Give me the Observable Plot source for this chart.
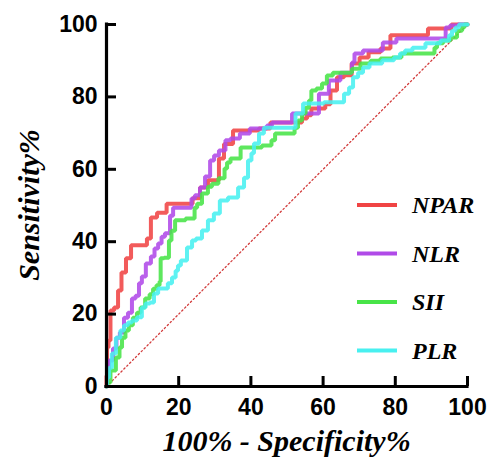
<!DOCTYPE html>
<html>
<head>
<meta charset="utf-8">
<script src="https://cdn.jsdelivr.net/npm/d3@7"></script>
<script src="https://cdn.jsdelivr.net/npm/@observablehq/plot@0.6"></script>
<style>
  html, body { margin: 0; padding: 0; background: #fff; }
  #chart { position: relative; width: 490px; height: 464px; }
</style>
</head>
<body>
<div id="chart"></div>
<script>
// ---- data ----
const seriesNames = ["NPAR", "NLR", "SII", "PLR"];
const seriesColors = ["#f04444", "#b04ae8", "#48e448", "#48f0f0"];

const npar_x = [0,0,0.3,0.8,1.4,2.8,3.6,4.7,6.1,7.5,10.8,11.6,13,15,18.3,23.3,24.4,27.4,28.8,30.7,31.6,33.5,36.6,40.4,44,46.8,53.7,54.6,56.5,57,60,61.2,62.9,64.8,66.8,69,71.2,74,77.8,79.5,88.9,89.2,95.3,95.8,100];
const npar_y = [0,3,10.8,12.7,21,21.8,26.5,31.5,35.4,39,39,40.9,46.7,48,50.5,50.5,52,55,57,57,63,67,70.7,70.7,71.3,72.9,72.9,74,74.9,76.8,76.8,78,81.8,85.4,86,89.2,90.9,92.3,93.4,97,97,98.9,98.9,100,100];

const nlr_x = [0,0.3,1.1,2.5,3,4.4,5.3,6.6,7.5,8.6,9.4,10.2,11.6,13,13.6,15,15.5,16.9,18.3,18.6,23.3,23.8,25.2,26.6,28,29.4,30.2,32.1,33.8,34.9,39,40.4,44,44.9,46.8,51,51.8,56.5,61.2,62,67.6,68.4,69,73.1,80,80.6,93.4,94.5,95.8,98.9,100];
const nlr_y = [0,4.4,7.2,10.5,13.5,14.9,19,20.4,24.3,25.1,28.5,30.4,34,35.9,38.1,39.5,41.4,42.3,47.2,49.4,49.4,51.9,52.8,55,58,62.4,63.8,65.2,68,68.5,69.9,71.3,71.3,72.1,72.9,72.9,75.4,75.4,80.9,84.5,86.7,89.5,92,92.8,95,96.1,96.1,99.2,99.7,100,100];

const sii_x = [0,0.3,1.9,3.3,3.9,4.7,5.8,6.6,8,8.9,10,11.4,12.5,13.3,14.4,15,15,16.9,17.7,18.3,19.7,24.1,24.7,25.5,27.4,28.8,29.6,32.4,33,33.8,34.9,36.3,38,40.7,45.4,46,47.4,51.8,52.4,53.7,54.6,55.7,56.5,57,59.3,60.1,62,63.4,67.6,68.4,72.3,74,77.8,80.6,82.8,90.6,91.1,92,94.5,96.1,98.1,98.9,99.4,100];
const sii_y = [0,1.1,4.4,8,10.8,13.5,15.5,16.9,19,20.4,21.8,24.3,25.5,27,28,29,35.4,35.6,40.3,43,45.9,46.4,49.4,50.5,53.3,55.2,56,57.5,60.2,61.9,63,63,66,66,66.6,68,69.9,69.9,71.5,73.5,75.4,77,79,81.8,82.3,83.7,85.9,86.7,86.7,87.8,89.2,90,90.6,90.9,92,92,93.6,94.8,95.6,96.4,98.3,99.2,100,100];

const plr_x = [0,0.3,1.1,1.9,3.3,4.4,5.3,6.6,7.5,9.4,10.2,11.4,12.7,13.6,15,16.3,17.7,18.6,19.7,19.9,21.3,23.3,24.1,25.5,27.4,28.8,30.7,32.1,35.2,37.7,38.5,39.9,40.4,41.3,43.2,44,51.5,53.2,55.7,64.8,66.8,67.6,69,70.4,71.7,74,78.7,80.6,82,83.4,86.1,90.6,94.5,95.3,96.1,97.2,98.1,100];
const plr_y = [0,2.5,5.2,9.1,13.5,15.5,16.9,17.7,18.2,19.1,21.8,22.9,23.2,25.7,27.1,27.1,28.5,30.1,32,33.4,34.8,38.4,40.3,40.9,43.1,45.9,47.8,51.4,52.2,55,57.7,62.4,64.4,67.1,69.9,71.5,71.5,75.4,78.2,78.5,80.9,82.6,85.4,86.7,88.1,89.2,90.1,90.9,92,92.8,93.6,94.8,95.6,97,98.3,99.2,100,100];

const xTicks = [0, 20, 40, 60, 80, 100];
const yTicks = [0, 20, 40, 60, 80, 100];
const diagonal = [0, 100];

const xTitle = "100% - Specificity%";
const yTitle = "Sensitivity%";

// ---- build table ----
const seriesX = [npar_x, nlr_x, sii_x, plr_x];
const seriesY = [npar_y, nlr_y, sii_y, plr_y];
const rows = [];
seriesNames.forEach((name, i) => {
  seriesX[i].forEach((x, j) => rows.push({series: name, x, y: seriesY[i][j]}));
});

const W = 490, H = 464;
const mL = 106, mR = 23, mT = 24, mB = 78;
const tickLenPx = 10;
const tickLenUnits = tickLenPx * 100 / (W - mL - mR);
const tickLenUnitsY = tickLenPx * 100 / (H - mT - mB);

const chart = Plot.plot({
  width: W,
  height: H,
  marginLeft: mL,
  marginRight: mR,
  marginTop: mT,
  marginBottom: mB,
  style: {
    fontFamily: "'Liberation Sans', Arial, sans-serif",
    fontSize: "23px",
    fontWeight: "bold",
    color: "#000",
    background: "#fff",
    overflow: "visible"
  },
  x: {domain: [0, 100]},
  y: {domain: [0, 100]},
  color: {domain: seriesNames, range: seriesColors},
  marks: [
    Plot.line(diagonal, {x: d => d, y: d => d, stroke: "#d23c3c", strokeWidth: 1.3, strokeDasharray: "1.5,2.6"}),
    Plot.line(rows, {x: "x", y: "y", z: "series", stroke: "series", strokeWidth: 4, curve: "step", strokeOpacity: 0.88, strokeLinejoin: "miter"}),
    Plot.ruleX(xTicks, {x: d => d, y1: 0, y2: tickLenUnitsY, stroke: "#000", strokeWidth: 3}),
    Plot.ruleY(yTicks, {y: d => d, x1: 0, x2: tickLenUnits, stroke: "#000", strokeWidth: 3}),
    Plot.ruleY([0], {stroke: "#000", strokeWidth: 3.2, strokeLinecap: "square"}),
    Plot.ruleX([0], {stroke: "#000", strokeWidth: 3.2, strokeLinecap: "square"}),
    Plot.axisX({ticks: xTicks, tickSize: 0, tickPadding: 12, label: null, fontSize: 23, fontWeight: "bold"}),
    Plot.axisY({ticks: yTicks, tickSize: 0, tickPadding: 9, label: null, fontSize: 23, fontWeight: "bold"})
  ]
});

document.getElementById("chart").appendChild(chart);

const svg = d3.select(chart);
const titleFont = "'Liberation Serif', 'Times New Roman', serif";

svg.append("text")
  .attr("x", (mL + W - mR) / 2)
  .attr("y", 451)
  .attr("text-anchor", "middle")
  .style("font-family", titleFont)
  .style("font-style", "italic")
  .style("font-weight", "bold")
  .style("font-size", "30px")
  .attr("fill", "#000")
  .text(xTitle);

svg.append("text")
  .attr("transform", `translate(39,${(mT + H - mB) / 2}) rotate(-90)`)
  .attr("text-anchor", "middle")
  .style("font-family", titleFont)
  .style("font-style", "italic")
  .style("font-weight", "bold")
  .style("font-size", "30px")
  .attr("fill", "#000")
  .text(yTitle);

// legend
const legend = svg.append("g");
const legendTop = 205, legendStep = 48.5;
seriesNames.forEach((name, i) => {
  const cy = legendTop + i * legendStep;
  legend.append("line")
    .attr("x1", 357).attr("x2", 397)
    .attr("y1", cy).attr("y2", cy)
    .attr("stroke", seriesColors[i])
    .attr("stroke-width", 4);
  legend.append("text")
    .attr("x", 412)
    .attr("y", cy + 8)
    .attr("text-anchor", "start")
    .style("font-family", titleFont)
    .style("font-style", "italic")
    .style("font-weight", "bold")
    .style("font-size", "24px")
    .attr("fill", "#000")
    .text(name);
});
</script>
</body>
</html>
